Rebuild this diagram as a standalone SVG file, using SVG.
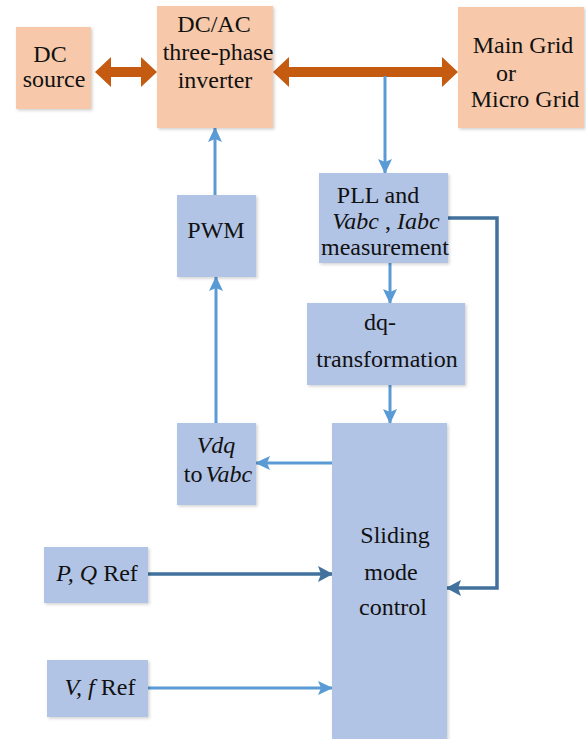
<svg xmlns="http://www.w3.org/2000/svg" width="586" height="739" viewBox="0 0 586 739" font-family="'Liberation Serif', Tinos, 'DejaVu Serif', 'Times New Roman', serif">
<style>
text{font-family:'Liberation Serif', Tinos, 'DejaVu Serif', 'Times New Roman', serif;font-size:24px;fill:#111;text-anchor:middle}
.or{fill:#f7c9aa}
.bl{fill:#b1c4e6}
.lb{stroke:#5b9bd5;stroke-width:3;fill:none}
.db{stroke:#41719c;stroke-width:3.5;fill:none}
.oa{fill:#c55a11}
.i{font-style:italic}
</style>
<defs>
<filter id="sh" x="-10%" y="-10%" width="130%" height="130%">
<feDropShadow dx="1.5" dy="1.5" stdDeviation="1.5" flood-color="#000" flood-opacity="0.18"/>
</filter>
<marker id="al" markerUnits="userSpaceOnUse" markerWidth="15" markerHeight="14" viewBox="0 0 15 14" refX="14" refY="7" orient="auto">
<path d="M0,0 L15,7 L0,14 L3,7 Z" fill="#5b9bd5"/>
</marker>
<marker id="ad" markerUnits="userSpaceOnUse" markerWidth="15" markerHeight="16" viewBox="0 0 15 16" refX="14" refY="8" orient="auto">
<path d="M0,0 L15,8 L0,16 L3,8 Z" fill="#41719c"/>
</marker>
</defs>
<rect width="586" height="739" fill="#fff"/>

<g id="connectors">
<polygon class="oa" points="95,72 111,57 111,67 141,67 141,57 157,72 141,87 141,77 111,77 111,87"/>
<polygon class="oa" points="273,72 289,57 289,67 442,67 442,57 458,72 442,87 442,77 289,77 289,87"/>
<path class="lb" d="M385,76 V173" marker-end="url(#al)"/>
<path class="lb" d="M215,195 V128" marker-end="url(#al)"/>
<path class="lb" d="M390,263 V303" marker-end="url(#al)"/>
<path class="lb" d="M390,385 V423" marker-end="url(#al)"/>
<path class="lb" d="M332,463 H256" marker-end="url(#al)"/>
<path class="lb" d="M216,423 V277" marker-end="url(#al)"/>
<path class="db" d="M448,218 H497 V588 H447" marker-end="url(#ad)"/>
<path class="db" d="M148,574 H332" marker-end="url(#ad)"/>
<path class="lb" d="M148,688 H332" marker-end="url(#al)"/>
</g>

<g id="dc-source">
<rect class="or" x="16" y="27" width="75" height="82" filter="url(#sh)"/>
<text x="50" y="62">DC</text>
<text x="54" y="87">source</text>
</g>

<g id="inverter">
<rect class="or" x="157" y="6" width="116" height="122" filter="url(#sh)"/>
<text x="214" y="32">DC/AC</text>
<text x="218" y="60">three-phase</text>
<text x="215" y="88">inverter</text>
</g>

<g id="main-grid">
<rect class="or" x="458" y="7" width="126" height="121" filter="url(#sh)"/>
<text x="523" y="53">Main Grid</text>
<text x="506" y="81">or</text>
<text x="525" y="107">Micro Grid</text>
</g>

<g id="pll">
<rect class="bl" x="319" y="173" width="129" height="90" filter="url(#sh)"/>
<text x="378" y="203">PLL and</text>
<text x="386" y="229"><tspan class="i">Vabc</tspan> , <tspan class="i">Iabc</tspan></text>
<text x="385" y="255">measurement</text>
</g>

<g id="pwm">
<rect class="bl" x="177" y="195" width="79" height="82" filter="url(#sh)"/>
<text x="216" y="238">PWM</text>
</g>

<g id="dq">
<rect class="bl" x="307" y="303" width="158" height="82" filter="url(#sh)"/>
<text x="380" y="330">dq-</text>
<text x="387" y="367">transformation</text>
</g>

<g id="vdq">
<rect class="bl" x="177" y="423" width="79" height="82" filter="url(#sh)"/>
<text x="216" y="453" class="i">Vdq</text>
<text x="218" y="482">to<tspan class="i" dx="3">Vabc</tspan></text>
</g>

<g id="smc">
<rect class="bl" x="332" y="423" width="115" height="320" filter="url(#sh)"/>
<text x="395" y="543">Sliding</text>
<text x="391" y="580">mode</text>
<text x="393" y="615">control</text>
</g>

<g id="pq-ref">
<rect class="bl" x="44" y="547" width="104" height="56" filter="url(#sh)"/>
<text x="97" y="581"><tspan class="i">P, Q</tspan> Ref</text>
</g>

<g id="vf-ref">
<rect class="bl" x="47" y="660" width="101" height="57" filter="url(#sh)"/>
<text x="100" y="695"><tspan class="i">V, f</tspan> Ref</text>
</g>
</svg>
